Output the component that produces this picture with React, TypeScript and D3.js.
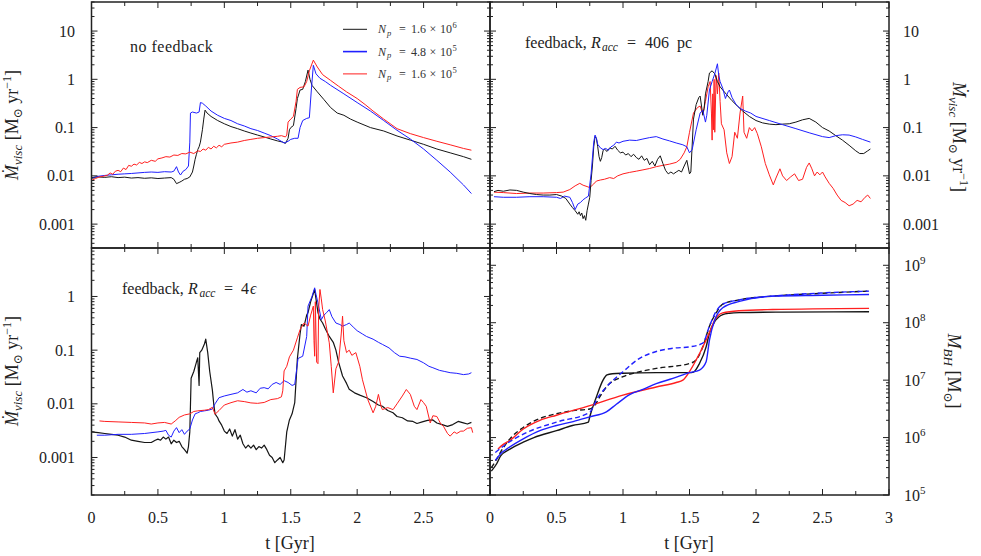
import React from "react";
import * as d3 from "d3";

type Pt = [number, number];

// ---------- data ----------
const legendMantissa = ["1.6", "4.8", "1.6"];
const legendExp = ["6", "5", "5"];

const nfBlack: Pt[] = [[0,0.0092],[0.05,0.0095],[0.1,0.0093],[0.15,0.0096],[0.2,0.0092],[0.25,0.0094],[0.3,0.009],[0.35,0.0092],[0.4,0.0089],[0.45,0.0091],[0.5,0.0088],[0.55,0.009],[0.6,0.0092],[0.62,0.0085],[0.64,0.0069],[0.66,0.0073],[0.68,0.0078],[0.7,0.0085],[0.72,0.0088],[0.74,0.0095],[0.76,0.012],[0.77,0.016],[0.78,0.022],[0.79,0.028],[0.8,0.035],[0.81,0.04],[0.82,0.05],[0.835,0.09],[0.845,0.15],[0.855,0.23],[0.87,0.2],[0.9,0.17],[0.95,0.14],[1.0,0.12],[1.05,0.105],[1.1,0.095],[1.15,0.085],[1.2,0.077],[1.25,0.07],[1.3,0.064],[1.35,0.058],[1.4,0.053],[1.44,0.05],[1.46,0.047],[1.48,0.06],[1.49,0.09],[1.5,0.1],[1.52,0.11],[1.54,0.25],[1.55,0.4],[1.57,0.6],[1.59,0.62],[1.61,0.9],[1.63,1.55],[1.645,1.0],[1.66,0.75],[1.7,0.55],[1.75,0.38],[1.8,0.26],[1.85,0.2],[1.9,0.18],[1.95,0.15],[2.0,0.13],[2.1,0.1],[2.2,0.085],[2.3,0.067],[2.4,0.055],[2.5,0.045],[2.6,0.036],[2.7,0.03],[2.8,0.025],[2.86,0.022]];
const nfBlue: Pt[] = [[0,0.009],[0.05,0.0098],[0.1,0.0102],[0.15,0.0105],[0.2,0.0108],[0.25,0.011],[0.3,0.0112],[0.35,0.0115],[0.4,0.0118],[0.45,0.012],[0.5,0.0118],[0.55,0.0122],[0.6,0.012],[0.62,0.0125],[0.64,0.0155],[0.655,0.012],[0.67,0.0104],[0.69,0.0125],[0.71,0.0135],[0.73,0.016],[0.74,0.05],[0.745,0.2],[0.76,0.21],[0.79,0.2],[0.81,0.21],[0.82,0.33],[0.835,0.32],[0.86,0.28],[0.9,0.22],[0.95,0.18],[1.0,0.155],[1.05,0.14],[1.1,0.12],[1.15,0.108],[1.2,0.095],[1.25,0.087],[1.3,0.077],[1.35,0.068],[1.4,0.058],[1.45,0.048],[1.48,0.052],[1.5,0.057],[1.53,0.06],[1.555,0.06],[1.57,0.1],[1.59,0.14],[1.62,0.155],[1.64,0.16],[1.655,0.6],[1.67,1.95],[1.69,1.3],[1.72,1.05],[1.76,0.9],[1.8,0.75],[1.9,0.5],[2.0,0.33],[2.1,0.22],[2.2,0.14],[2.3,0.088],[2.4,0.058],[2.5,0.036],[2.6,0.021],[2.7,0.012],[2.8,0.0065],[2.86,0.0043]];
const nfRed: Pt[] = [[0,0.008],[0.03,0.0088],[0.06,0.0095],[0.09,0.0098],[0.12,0.0103],[0.14,0.0115],[0.16,0.0108],[0.18,0.0125],[0.2,0.013],[0.22,0.0122],[0.24,0.0145],[0.26,0.0135],[0.28,0.0165],[0.3,0.0158],[0.32,0.0175],[0.34,0.0168],[0.36,0.019],[0.38,0.018],[0.4,0.0195],[0.42,0.0188],[0.45,0.021],[0.48,0.02],[0.5,0.0225],[0.53,0.0235],[0.56,0.025],[0.59,0.0245],[0.62,0.027],[0.65,0.0265],[0.68,0.029],[0.71,0.0285],[0.74,0.031],[0.77,0.029],[0.8,0.033],[0.82,0.032],[0.84,0.036],[0.86,0.034],[0.88,0.039],[0.9,0.036],[0.92,0.041],[0.94,0.038],[0.96,0.043],[0.98,0.04],[1.0,0.045],[1.05,0.048],[1.1,0.05],[1.15,0.054],[1.2,0.057],[1.25,0.06],[1.3,0.062],[1.35,0.064],[1.4,0.066],[1.43,0.068],[1.46,0.064],[1.47,0.07],[1.48,0.13],[1.5,0.15],[1.52,0.17],[1.54,0.35],[1.55,0.62],[1.57,0.68],[1.6,0.7],[1.62,0.9],[1.64,1.5],[1.67,2.5],[1.7,1.8],[1.74,1.25],[1.8,0.95],[1.86,0.72],[1.92,0.55],[2.0,0.4],[2.06,0.3],[2.12,0.22],[2.2,0.15],[2.3,0.095],[2.4,0.075],[2.5,0.062],[2.6,0.052],[2.7,0.044],[2.8,0.037],[2.86,0.034]];

const fbBlack: Pt[] = [[0.03,0.0047],[0.06,0.005],[0.1,0.0048],[0.15,0.0051],[0.2,0.005],[0.25,0.0046],[0.3,0.0043],[0.35,0.0041],[0.4,0.004],[0.45,0.004],[0.5,0.0041],[0.54,0.0038],[0.57,0.0034],[0.6,0.0026],[0.62,0.0022],[0.64,0.0019],[0.66,0.0016],[0.67,0.0018],[0.68,0.0015],[0.69,0.0017],[0.7,0.0013],[0.71,0.0015],[0.72,0.0012],[0.73,0.0019],[0.74,0.0026],[0.75,0.0036],[0.76,0.008],[0.77,0.016],[0.78,0.04],[0.79,0.065],[0.8,0.06],[0.81,0.04],[0.82,0.025],[0.83,0.02],[0.84,0.024],[0.85,0.033],[0.86,0.036],[0.88,0.032],[0.9,0.038],[0.92,0.036],[0.94,0.041],[0.96,0.034],[0.98,0.03],[1.0,0.031],[1.02,0.027],[1.04,0.029],[1.06,0.025],[1.08,0.028],[1.1,0.024],[1.12,0.022],[1.14,0.026],[1.16,0.021],[1.18,0.023],[1.2,0.017],[1.22,0.02],[1.24,0.016],[1.26,0.022],[1.28,0.026],[1.3,0.018],[1.32,0.013],[1.34,0.011],[1.36,0.012],[1.38,0.011],[1.4,0.012],[1.42,0.013],[1.44,0.012],[1.46,0.016],[1.48,0.021],[1.5,0.011],[1.51,0.012],[1.53,0.15],[1.55,0.3],[1.57,0.42],[1.58,0.45],[1.6,0.18],[1.61,0.25],[1.62,0.5],[1.64,0.9],[1.65,1.35],[1.67,1.5],[1.69,1.3],[1.71,0.9],[1.73,0.7],[1.75,0.6],[1.78,0.48],[1.82,0.36],[1.86,0.28],[1.9,0.22],[1.95,0.17],[2.0,0.14],[2.05,0.125],[2.1,0.118],[2.15,0.115],[2.2,0.118],[2.25,0.12],[2.3,0.13],[2.35,0.145],[2.4,0.155],[2.45,0.13],[2.5,0.1],[2.55,0.085],[2.6,0.068],[2.65,0.055],[2.7,0.043],[2.75,0.033],[2.78,0.029],[2.81,0.029],[2.84,0.033],[2.86,0.036]];
const fbBlue: Pt[] = [[0.03,0.0037],[0.1,0.0036],[0.2,0.0036],[0.3,0.0037],[0.4,0.0037],[0.5,0.0036],[0.53,0.0034],[0.56,0.0038],[0.6,0.0036],[0.62,0.0028],[0.64,0.002],[0.66,0.0026],[0.68,0.0028],[0.7,0.0032],[0.72,0.0035],[0.74,0.0038],[0.76,0.011],[0.78,0.05],[0.79,0.07],[0.8,0.06],[0.81,0.045],[0.83,0.038],[0.85,0.035],[0.87,0.037],[0.89,0.034],[0.91,0.04],[0.93,0.043],[0.95,0.05],[0.97,0.048],[1.0,0.052],[1.05,0.055],[1.1,0.054],[1.15,0.058],[1.2,0.062],[1.25,0.065],[1.3,0.058],[1.35,0.053],[1.4,0.048],[1.45,0.044],[1.48,0.04],[1.5,0.03],[1.52,0.035],[1.55,0.09],[1.58,0.2],[1.6,0.23],[1.62,0.13],[1.63,0.18],[1.65,0.6],[1.67,0.9],[1.69,1.3],[1.71,2.1],[1.72,1.2],[1.73,0.9],[1.75,0.65],[1.77,0.4],[1.79,0.55],[1.8,0.6],[1.82,0.42],[1.85,0.3],[1.88,0.25],[1.92,0.22],[1.96,0.2],[2.0,0.17],[2.1,0.14],[2.2,0.115],[2.3,0.095],[2.4,0.078],[2.5,0.065],[2.55,0.062],[2.6,0.068],[2.65,0.071],[2.7,0.07],[2.75,0.064],[2.8,0.057],[2.86,0.05]];
const fbRed: Pt[] = [[0.03,0.0046],[0.1,0.0045],[0.2,0.0043],[0.3,0.0044],[0.4,0.0044],[0.5,0.0045],[0.55,0.0046],[0.6,0.0052],[0.64,0.0062],[0.675,0.007],[0.7,0.0064],[0.73,0.006],[0.75,0.0057],[0.78,0.0068],[0.8,0.0078],[0.83,0.0082],[0.86,0.0085],[0.9,0.0092],[0.93,0.0088],[0.96,0.01],[1.0,0.011],[1.05,0.0118],[1.1,0.0125],[1.15,0.0133],[1.2,0.0142],[1.25,0.0155],[1.3,0.0165],[1.35,0.0175],[1.4,0.019],[1.43,0.022],[1.46,0.03],[1.48,0.04],[1.5,0.08],[1.53,0.2],[1.56,0.26],[1.58,0.28],[1.6,0.19],[1.62,0.35],[1.64,0.7],[1.655,0.9],[1.665,0.2],[1.67,0.055],[1.675,0.5],[1.68,0.09],[1.685,1.0],[1.69,0.08],[1.7,1.2],[1.71,0.5],[1.72,1.35],[1.73,0.35],[1.74,0.12],[1.76,0.09],[1.78,0.03],[1.8,0.018],[1.82,0.025],[1.84,0.08],[1.86,0.06],[1.88,0.2],[1.9,0.45],[1.91,0.08],[1.93,0.06],[1.95,0.1],[1.97,0.085],[1.99,0.1],[2.01,0.075],[2.04,0.04],[2.07,0.018],[2.1,0.0105],[2.13,0.0065],[2.15,0.009],[2.18,0.014],[2.2,0.01],[2.23,0.008],[2.26,0.0095],[2.29,0.011],[2.32,0.008],[2.35,0.0085],[2.38,0.015],[2.4,0.0185],[2.42,0.014],[2.44,0.01],[2.46,0.012],[2.48,0.0105],[2.5,0.012],[2.52,0.0095],[2.55,0.007],[2.58,0.0055],[2.61,0.004],[2.64,0.0031],[2.67,0.0028],[2.7,0.0024],[2.73,0.0026],[2.76,0.0031],[2.79,0.0029],[2.82,0.0036],[2.84,0.004],[2.86,0.0034]];

const eBlack: Pt[] = [[0,0.003],[0.05,0.0029],[0.1,0.0028],[0.15,0.0027],[0.2,0.0026],[0.25,0.0024],[0.3,0.0021],[0.35,0.002],[0.4,0.0019],[0.45,0.0019],[0.48,0.0021],[0.5,0.0022],[0.52,0.0021],[0.54,0.0024],[0.56,0.0022],[0.58,0.0024],[0.6,0.0018],[0.62,0.0021],[0.64,0.0019],[0.66,0.002],[0.68,0.0016],[0.7,0.0014],[0.71,0.0013],[0.72,0.0012],[0.73,0.0016],[0.74,0.003],[0.75,0.03],[0.77,0.04],[0.79,0.06],[0.8,0.072],[0.81,0.022],[0.815,0.09],[0.83,0.1],[0.85,0.13],[0.86,0.16],[0.875,0.09],[0.89,0.04],[0.91,0.018],[0.92,0.01],[0.93,0.0065],[0.95,0.0055],[0.96,0.0048],[0.98,0.004],[1.0,0.0031],[1.02,0.0028],[1.04,0.0034],[1.06,0.0025],[1.08,0.0033],[1.1,0.0022],[1.12,0.0026],[1.14,0.0018],[1.16,0.0015],[1.18,0.0017],[1.2,0.0015],[1.22,0.0017],[1.24,0.0014],[1.26,0.0016],[1.28,0.0015],[1.3,0.0017],[1.32,0.0014],[1.34,0.0011],[1.36,0.001],[1.38,0.0008],[1.4,0.0009],[1.42,0.001],[1.44,0.0008],[1.45,0.0009],[1.47,0.003],[1.49,0.005],[1.51,0.0065],[1.53,0.0105],[1.55,0.07],[1.57,0.2],[1.58,0.3],[1.6,0.28],[1.62,0.45],[1.63,0.5],[1.65,0.8],[1.68,1.35],[1.69,0.9],[1.705,0.5],[1.72,0.38],[1.74,0.32],[1.76,0.25],[1.79,0.18],[1.82,0.14],[1.84,0.1],[1.86,0.06],[1.89,0.033],[1.92,0.024],[1.94,0.0186],[1.98,0.016],[2.02,0.0145],[2.07,0.013],[2.12,0.011],[2.16,0.0095],[2.19,0.009],[2.23,0.0075],[2.27,0.0068],[2.3,0.0058],[2.34,0.0055],[2.38,0.0048],[2.42,0.0047],[2.45,0.0043],[2.49,0.0046],[2.53,0.0049],[2.57,0.005],[2.6,0.0044],[2.64,0.0041],[2.68,0.0038],[2.72,0.0041],[2.76,0.0047],[2.8,0.0044],[2.83,0.0042],[2.86,0.0045]];
const eBlue: Pt[] = [[0.04,0.0026],[0.1,0.0026],[0.2,0.0027],[0.3,0.0027],[0.4,0.0028],[0.5,0.003],[0.54,0.0031],[0.56,0.0032],[0.58,0.0026],[0.6,0.0024],[0.62,0.0031],[0.64,0.0036],[0.66,0.0029],[0.68,0.0033],[0.7,0.0027],[0.72,0.0031],[0.74,0.0034],[0.76,0.005],[0.78,0.0065],[0.8,0.0068],[0.82,0.0072],[0.85,0.0074],[0.88,0.0076],[0.91,0.008],[0.93,0.01],[0.96,0.013],[1.0,0.014],[1.05,0.015],[1.1,0.016],[1.14,0.0185],[1.17,0.0165],[1.2,0.0175],[1.24,0.016],[1.27,0.0195],[1.3,0.02],[1.33,0.019],[1.36,0.023],[1.39,0.025],[1.42,0.023],[1.45,0.027],[1.48,0.025],[1.51,0.022],[1.53,0.023],[1.555,0.07],[1.59,0.077],[1.62,0.18],[1.63,0.66],[1.66,1.0],[1.68,1.45],[1.69,1.1],[1.705,0.76],[1.73,0.37],[1.75,0.45],[1.77,0.5],[1.79,0.57],[1.81,0.42],[1.84,0.32],[1.87,0.3],[1.89,0.28],[1.92,0.3],[1.94,0.32],[1.97,0.27],[2.0,0.23],[2.04,0.2],[2.07,0.18],[2.12,0.16],[2.16,0.14],[2.19,0.128],[2.24,0.11],[2.28,0.09],[2.32,0.077],[2.36,0.075],[2.4,0.071],[2.45,0.067],[2.5,0.058],[2.54,0.05],[2.57,0.047],[2.62,0.042],[2.66,0.04],[2.7,0.038],[2.75,0.037],[2.8,0.035],[2.84,0.036],[2.86,0.038]];
const eRed: Pt[] = [[0.06,0.0048],[0.1,0.0047],[0.2,0.0046],[0.3,0.0045],[0.4,0.0044],[0.45,0.0042],[0.5,0.0044],[0.55,0.0045],[0.6,0.0042],[0.63,0.0048],[0.66,0.0056],[0.7,0.0062],[0.74,0.0065],[0.77,0.0072],[0.8,0.0074],[0.85,0.0076],[0.88,0.0078],[0.91,0.0086],[0.93,0.0064],[0.96,0.0075],[1.0,0.0095],[1.05,0.0105],[1.1,0.0114],[1.15,0.011],[1.2,0.0104],[1.25,0.0102],[1.3,0.0106],[1.35,0.012],[1.4,0.0125],[1.43,0.0135],[1.44,0.0175],[1.45,0.041],[1.47,0.05],[1.49,0.075],[1.52,0.1],[1.55,0.17],[1.57,0.24],[1.6,0.32],[1.63,0.28],[1.65,0.45],[1.67,0.66],[1.675,0.15],[1.68,0.077],[1.685,0.8],[1.69,0.2],[1.695,0.06],[1.705,0.056],[1.71,0.6],[1.72,1.35],[1.73,0.9],[1.74,0.57],[1.76,0.35],[1.79,0.137],[1.805,0.05],[1.82,0.016],[1.84,0.045],[1.86,0.06],[1.88,0.2],[1.89,0.43],[1.9,0.15],[1.92,0.09],[1.94,0.1],[1.96,0.08],[1.99,0.09],[2.02,0.05],[2.04,0.028],[2.08,0.012],[2.12,0.0068],[2.14,0.009],[2.16,0.015],[2.18,0.009],[2.19,0.0078],[2.23,0.0085],[2.27,0.0078],[2.3,0.01],[2.34,0.014],[2.37,0.0185],[2.4,0.015],[2.43,0.009],[2.45,0.0078],[2.48,0.012],[2.5,0.0105],[2.52,0.009],[2.55,0.0044],[2.57,0.006],[2.6,0.0058],[2.63,0.0042],[2.65,0.0038],[2.68,0.0028],[2.7,0.0025],[2.73,0.003],[2.75,0.0028],[2.78,0.0031],[2.8,0.0031],[2.83,0.0035],[2.86,0.0036],[2.87,0.0029]];

const bhBlack: Pt[] = [[0.01,2.6e5],[0.05,3.5e5],[0.08,4.8e5],[0.15,6.3e5],[0.25,8.3e5],[0.33,1.0e6],[0.5,1.32e6],[0.62,1.62e6],[0.74,1.86e6],[0.75,2.3e6],[0.8,5.1e6],[0.85,1.0e7],[0.88,1.23e7],[0.92,1.29e7],[1.0,1.32e7],[1.25,1.35e7],[1.5,1.35e7],[1.53,1.38e7],[1.575,1.95e7],[1.625,3.8e7],[1.65,6.6e7],[1.69,1.05e8],[1.72,1.26e8],[1.75,1.38e8],[1.8,1.46e8],[1.875,1.5e8],[2.2,1.53e8],[2.85,1.55e8]];
const bhBlackDash: Pt[] = [[0.01,3.0e5],[0.05,4.2e5],[0.08,5.6e5],[0.15,9.5e5],[0.25,1.5e6],[0.375,2.15e6],[0.5,2.6e6],[0.625,2.95e6],[0.75,3.15e6],[0.8,4.0e6],[0.825,5.1e6],[0.875,7.6e6],[1.0,1.15e7],[1.125,1.4e7],[1.25,1.6e7],[1.5,1.95e7],[1.55,2.25e7],[1.6,3.8e7],[1.65,8.7e7],[1.7,1.48e8],[1.75,2.1e8],[1.875,2.5e8],[2.125,2.9e8],[2.5,3.25e8],[2.85,3.55e8]];
const bhBlue: Pt[] = [[0.04,4.0e5],[0.08,5.25e5],[0.125,6.3e5],[0.25,9.5e5],[0.375,1.32e6],[0.5,1.62e6],[0.625,1.9e6],[0.75,2.3e6],[0.875,2.8e6],[0.95,3.8e6],[1.05,5.6e6],[1.15,6.9e6],[1.25,8.7e6],[1.375,1.07e7],[1.5,1.35e7],[1.575,1.5e7],[1.625,2.1e7],[1.65,5.0e7],[1.69,1.12e8],[1.75,1.82e8],[1.875,2.35e8],[2.125,2.9e8],[2.5,3.0e8],[2.85,3.1e8]];
const bhBlueDash: Pt[] = [[0.04,5.5e5],[0.125,7.8e5],[0.25,1.15e6],[0.5,1.86e6],[0.75,2.75e6],[0.775,3.4e6],[0.8,4.5e6],[0.875,7.6e6],[1.0,1.4e7],[1.125,2.4e7],[1.25,3.15e7],[1.375,3.6e7],[1.5,3.8e7],[1.6,4.4e7],[1.65,8.7e7],[1.7,1.58e8],[1.75,2.1e8],[1.875,2.5e8],[2.125,2.9e8],[2.5,3.3e8],[2.85,3.55e8]];
const bhRed: Pt[] = [[0.06,6.3e5],[0.1,7.6e5],[0.15,8.9e5],[0.25,1.41e6],[0.375,2.0e6],[0.5,2.45e6],[0.75,3.6e6],[1.0,5.5e6],[1.25,7.6e6],[1.4,9.1e6],[1.45,1.0e7],[1.5,1.41e7],[1.55,2.24e7],[1.625,5.0e7],[1.66,7.6e7],[1.69,1.12e8],[1.75,1.48e8],[1.875,1.62e8],[2.125,1.7e8],[2.85,1.78e8]];

const xTickLabelsLeft = ["0", "0.5", "1", "1.5", "2", "2.5"];
const xTickLabelsRight = ["0", "0.5", "1", "1.5", "2", "2.5", "3"];
const mdotTickLabels = ["10", "1", "0.1", "0.01", "0.001"];
const mbhExps = ["5", "6", "7", "8", "9"];

// ---------- layout ----------
const XL = 91.5, XM = 490, XR = 889;
const YT = 2, YM = 248, YB = 495;
const BLACK = "#151515", BLUE = "#1f1fff", RED = "#ff1f1f";
const FONT = "Liberation Serif, Times New Roman, DejaVu Serif, serif";
const TS = { fontFamily: FONT };

function logTicks(d0: number, d1: number) {
  const out: { v: number; major: boolean }[] = [];
  for (let e = Math.floor(Math.log10(d0)); e <= Math.ceil(Math.log10(d1)); e++) {
    for (let k = 1; k <= 9; k++) {
      const v = k * Math.pow(10, e);
      if (v >= d0 * 0.9999 && v <= d1 * 1.0001) out.push({ v, major: k === 1 });
    }
  }
  return out;
}

type Series = { data: Pt[]; color: string; dash?: string; width?: number };

function Panel(props: { id: string; x0: number; x1: number; y0: number; y1: number; yDomain: [number, number]; series: Series[]; smooth?: boolean }) {
  const { id, x0, x1, y0, y1, yDomain, series, smooth } = props;
  const xs = d3.scaleLinear().domain([0, 3]).range([x0, x1]);
  const ys = d3.scaleLog().domain(yDomain).range([y1, y0]);
  const line = d3.line<Pt>().x(d => xs(d[0])).y(d => ys(d[1]));
  if (smooth) line.curve(d3.curveMonotoneX);
  const xt = d3.range(0, 13).map(i => i * 0.25);
  const yt = logTicks(yDomain[0], yDomain[1]);
  const ticks: any[] = [];
  xt.forEach((t, i) => {
    const L = i % 2 === 0 ? 6 : 4;
    const x = xs(t);
    ticks.push(<line key={"xb" + i} x1={x} x2={x} y1={y1} y2={y1 - L} />);
    ticks.push(<line key={"xt" + i} x1={x} x2={x} y1={y0} y2={y0 + L} />);
  });
  yt.forEach((t, i) => {
    const L = t.major ? 6 : 3;
    const y = ys(t.v);
    ticks.push(<line key={"yl" + i} x1={x0} x2={x0 + L} y1={y} y2={y} />);
    ticks.push(<line key={"yr" + i} x1={x1} x2={x1 - L} y1={y} y2={y} />);
  });
  return (
    <g>
      <defs>
        <clipPath id={id}>
          <rect x={x0} y={y0} width={x1 - x0} height={y1 - y0} />
        </clipPath>
      </defs>
      <g clipPath={`url(#${id})`} fill="none">
        {series.map((s, i) => (
          <path key={i} d={line(s.data) || ""} stroke={s.color} strokeWidth={s.width ?? 1} strokeDasharray={s.dash} strokeLinejoin="round" />
        ))}
      </g>
      <g stroke="#222" strokeWidth={1}>{ticks}</g>
      <rect x={x0} y={y0} width={x1 - x0} height={y1 - y0} fill="none" stroke="#222" strokeWidth={1.5} />
    </g>
  );
}

function MdotLabel({ x, y, rot }: { x: number; y: number; rot: number }) {
  return (
    <text transform={`translate(${x},${y}) rotate(${rot})`} textAnchor="middle" fontSize={18} style={TS} fill="#222">
      <tspan fontStyle="italic">Ṁ</tspan>
      <tspan fontStyle="italic" fontSize={13} dy={4}>visc</tspan>
      <tspan dy={-4}> [M</tspan>
      <tspan fontSize={12} dy={4}>⊙</tspan>
      <tspan dy={-4}> yr</tspan>
      <tspan fontSize={12} dy={-7}>−1</tspan>
      <tspan dy={7}>]</tspan>
    </text>
  );
}

function RaccText({ x, y, xs, tail }: { x: number; y: number; xs: number[]; tail: any }) {
  return (
    <text x={x} y={y} fontSize={16} fill="#222" style={TS}>
      <tspan x={x}>feedback,</tspan>
      <tspan x={xs[0]} fontStyle="italic">R</tspan>
      <tspan x={xs[1]} fontStyle="italic" fontSize={11.5} dy={3}>acc</tspan>
      <tspan x={xs[2]} dy={-3}>=</tspan>
      {tail}
    </text>
  );
}

export default function App() {
  const xsL = d3.scaleLinear().domain([0, 3]).range([XL, XM]);
  const xsR = d3.scaleLinear().domain([0, 3]).range([XM, XR]);
  const topDom: [number, number] = [3.2e-4, 40];
  const botDom: [number, number] = [2e-4, 8];
  const bhDom: [number, number] = [1e5, 2e9];
  const ysT = d3.scaleLog().domain(topDom).range([YM, YT]);
  const ysB = d3.scaleLog().domain(botDom).range([YB, YM]);
  const ysBH = d3.scaleLog().domain(bhDom).range([YB, YM]);
  const mdotVals = mdotTickLabels.map(s => +s);
  const legColors = [BLACK, BLUE, RED];
  return (
    <svg width={981} height={556} style={{ display: "block", position: "absolute", left: 0, top: 0, fontFamily: FONT }}>
      <rect width={981} height={556} fill="#fff" />
      <Panel id="c1" x0={XL} x1={XM} y0={YT} y1={YM} yDomain={topDom}
        series={[{ data: nfBlack, color: BLACK }, { data: nfBlue, color: BLUE }, { data: nfRed, color: RED }]} />
      <Panel id="c2" x0={XM} x1={XR} y0={YT} y1={YM} yDomain={topDom}
        series={[{ data: fbRed, color: RED }, { data: fbBlack, color: BLACK }, { data: fbBlue, color: BLUE }]} />
      <Panel id="c3" x0={XL} x1={XM} y0={YM} y1={YB} yDomain={botDom}
        series={[{ data: eBlack, color: BLACK, width: 1.2 }, { data: eBlue, color: BLUE }, { data: eRed, color: RED }]} />
      <Panel id="c4" x0={XM} x1={XR} y0={YM} y1={YB} yDomain={bhDom} smooth
        series={[
          { data: bhBlack, color: BLACK, width: 1.4 },
          { data: bhBlackDash, color: BLACK, width: 1.4, dash: "5,3" },
          { data: bhRed, color: RED, width: 1.4 },
          { data: bhBlue, color: BLUE, width: 1.4 },
          { data: bhBlueDash, color: BLUE, width: 1.4, dash: "5,3" },
        ]} />

      {xTickLabelsLeft.map(s => (
        <text key={"xl" + s} x={xsL(+s)} y={523} textAnchor="middle" fontSize={16} fill="#222" style={TS}>{s}</text>
      ))}
      {xTickLabelsRight.map(s => (
        <text key={"xr" + s} x={xsR(+s)} y={523} textAnchor="middle" fontSize={16} fill="#222" style={TS}>{s}</text>
      ))}
      <text x={290} y={549} textAnchor="middle" fontSize={18} fill="#222" style={TS}>t [Gyr]</text>
      <text x={689} y={549} textAnchor="middle" fontSize={18} fill="#222" style={TS}>t [Gyr]</text>

      {mdotTickLabels.map((s, i) => (
        <text key={"yl" + s} x={75} y={ysT(mdotVals[i]) + 5.5} textAnchor="end" fontSize={16} fill="#222" style={TS}>{s}</text>
      ))}
      {mdotTickLabels.slice(1).map((s, i) => (
        <text key={"ybl" + s} x={75} y={ysB(mdotVals[i + 1]) + 5.5} textAnchor="end" fontSize={16} fill="#222" style={TS}>{s}</text>
      ))}
      {mdotTickLabels.map((s, i) => (
        <text key={"yr" + s} x={903} y={ysT(mdotVals[i]) + 5.5} textAnchor="start" fontSize={16} fill="#222" style={TS}>{s}</text>
      ))}
      {mbhExps.map(e => (
        <text key={"bh" + e} x={904} y={ysBH(Math.pow(10, +e)) + 5.5} fontSize={16} fill="#222" style={TS}>
          10<tspan fontSize={11} dy={-7}>{e}</tspan>
        </text>
      ))}

      <MdotLabel x={18} y={125} rot={-90} />
      <MdotLabel x={18} y={371} rot={-90} />
      <MdotLabel x={953} y={137} rot={90} />
      <text transform="translate(948,371) rotate(90)" textAnchor="middle" fontSize={18} fill="#222" style={TS}>
        <tspan fontStyle="italic">M</tspan>
        <tspan fontStyle="italic" fontSize={13} dy={4}>BH</tspan>
        <tspan dy={-4}> [M</tspan>
        <tspan fontSize={12} dy={4}>⊙</tspan>
        <tspan dy={-4}>]</tspan>
      </text>

      <text x={130} y={51.5} fontSize={16} fill="#222" style={TS} letterSpacing={0.5}>no feedback</text>
      <RaccText x={525} y={48} xs={[591, 602, 627]}
        tail={[<tspan key="a" x={645}>406</tspan>, <tspan key="b" x={677}>pc</tspan>]} />
      <RaccText x={122} y={294} xs={[188, 199.5, 224]}
        tail={[<tspan key="a" x={241}>4</tspan>, <tspan key="b" x={250} fontStyle="italic">ϵ</tspan>]} />

      {legendMantissa.map((s, i) => {
        const y = 29.3 + i * 22.3;
        return (
          <g key={"lg" + i}>
            <line x1={343} x2={367} y1={y} y2={y} stroke={legColors[i]} strokeWidth={i === 1 ? 1.6 : 1} />
            <text x={378} y={y + 4} fontSize={12} fill="#333" style={TS}>
              <tspan x={378} fontStyle="italic">N</tspan>
              <tspan x={387} fontStyle="italic" fontSize={8.5} dy={2.5}>p</tspan>
              <tspan x={399} dy={-2.5}>=</tspan>
              <tspan x={411}>{s}</tspan>
              <tspan x={429.5}>×</tspan>
              <tspan x={440}>10</tspan>
              <tspan x={452.5} fontSize={8.5} dy={-5}>{legendExp[i]}</tspan>
            </text>
          </g>
        );
      })}
    </svg>
  );
}
